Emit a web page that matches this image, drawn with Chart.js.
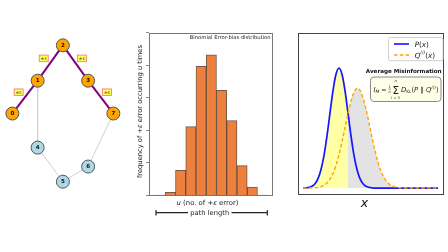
<!DOCTYPE html>
<html><head><meta charset="utf-8">
<script src="https://cdn.jsdelivr.net/npm/chart.js@4.4.1/dist/chart.umd.min.js"></script>
<style>
html,body{margin:0;padding:0;background:#fff;width:448px;height:252px;overflow:hidden}
canvas{position:absolute;left:0;top:0}
</style></head><body>
<canvas id="cGraph" width="448" height="252"></canvas>
<canvas id="cHist" width="448" height="252"></canvas>
<canvas id="cKL" width="448" height="252"></canvas>
<script>
/* ---- panel 1: path through the network ---- */
const nodeIds    = [0, 1, 2, 3, 7, 4, 5, 6];
const nodeX      = [0, 1, 2, 3, 4, 1, 2, 3];
const nodeY      = [2.7, 4.0, 5.4, 4.0, 2.7, 1.35, 0, 0.6];
const pathNodes  = [0, 1, 2, 3, 7];
const pathEdges  = [[0,1],[1,2],[2,3],[3,7]];
const otherEdges = [[1,4],[4,5],[5,6],[6,7]];
const edgeLabel  = '±ε';

/* ---- panel 2: binomial error-bias histogram ---- */
const binIndex  = [0, 1, 2, 3, 4, 5, 6, 7, 8, 9, 10];
const binFreq   = [0.03, 0.11, 0.79, 2.13, 3.98, 4.33, 3.24, 2.31, 0.93, 0.27, 0.03];
const freqTicks = [0, 1, 2, 3, 4, 5];

/* ---- panel 3: P(x) vs Q(i)(x) ---- */
const xs    = [3,6,9,12,15,18,21,24,27,30,33,36,39,42,45,48,51,54,57,60,63,66,69,72,75,78,81,84,87,90,93,96,99,102,105,108,111,114,117,120,123,126,129,132,135,138];
const pVals = [0.001,0.002,0.006,0.015,0.036,0.078,0.154,0.272,0.435,0.626,0.812,0.949,1.0,0.949,0.812,0.626,0.435,0.272,0.154,0.078,0.036,0.015,0.006,0.002,0,0,0,0,0,0,0,0,0,0,0,0,0,0,0,0,0,0,0,0,0,0];
const qVals = [0,0,0,0.001,0.003,0.006,0.012,0.023,0.042,0.074,0.121,0.189,0.277,0.384,0.503,0.621,0.725,0.798,0.83,0.814,0.753,0.658,0.543,0.423,0.312,0.216,0.141,0.087,0.051,0.028,0.015,0.007,0.003,0.0015,0,0,0,0,0,0,0,0,0,0,0,0];
const crossX = 48;

const FAM = '"DejaVu Sans", sans-serif';
const f = (sz, st) => (st ? st + ' ' : '') + sz.toFixed(2) + 'px ' + FAM;

function measureRuns(ctx, list){ let w = 0; list.forEach(r => { ctx.font = r[1]; w += ctx.measureText(r[0]).width; }); return w; }
function drawRuns(ctx, list, x, y, align){
  const w = measureRuns(ctx, list);
  let cx = align === 'center' ? x - w/2 : align === 'right' ? x - w : x;
  ctx.textAlign = 'left'; ctx.textBaseline = 'alphabetic';
  list.forEach(r => { ctx.font = r[1]; ctx.fillText(r[0], cx, y + (r[2] || 0)); cx += ctx.measureText(r[0]).width; });
  return cx;
}
function fitRuns(ctx, mk, target){ const w = measureRuns(ctx, mk(10)); return mk(10 * target / w); }
function frame(ctx, l, t, r, b, col){
  ctx.save(); ctx.strokeStyle = col; ctx.lineWidth = 1;
  ctx.strokeRect(Math.round(l) + .5, Math.round(t) + .5, Math.round(r - l) - 1, Math.round(b - t) - 1);
  ctx.restore();
}
function rrect(ctx, x, y, w, h, r){
  ctx.beginPath(); ctx.moveTo(x + r, y); ctx.arcTo(x + w, y, x + w, y + h, r); ctx.arcTo(x + w, y + h, x, y + h, r);
  ctx.arcTo(x, y + h, x, y, r); ctx.arcTo(x, y, x + w, y, r); ctx.closePath();
}
const base = {responsive:false, animation:false, events:[], plugins:{legend:{display:false}, tooltip:{enabled:false}}};

/* ================= panel 1 ================= */
const pt = id => { const k = nodeIds.indexOf(id); return {x: nodeX[k], y: nodeY[k]}; };
const graphLabels = {
  id: 'graphLabels',
  afterDatasetsDraw(chart){
    const {ctx, scales:{x, y}} = chart;
    const px = id => { const p = pt(id); return {x: x.getPixelForValue(p.x), y: y.getPixelForValue(p.y)}; };
    ctx.save();
    pathEdges.forEach(([a, b]) => {
      const A = px(a), B = px(b);
      const dx = B.x - A.x, dy = B.y - A.y, L = Math.hypot(dx, dy);
      let nx = -dy / L, ny = dx / L;
      if (ny > 0){ nx = -nx; ny = -ny; }
      const cx = (A.x + B.x)/2 + nx*8, cy = (A.y + B.y)/2 + ny*8;
      ctx.fillStyle = '#ffff55'; ctx.strokeStyle = '#ff7070'; ctx.lineWidth = 0.8;
      ctx.fillRect(cx - 4.5, cy - 3.3, 9, 6.6); ctx.strokeRect(cx - 4.5, cy - 3.3, 9, 6.6);
      ctx.fillStyle = '#333'; ctx.font = f(4.6); ctx.textAlign = 'center'; ctx.textBaseline = 'middle';
      ctx.fillText(edgeLabel, cx, cy + 0.3);
    });
    ctx.fillStyle = '#111'; ctx.font = f(5.6, 'bold'); ctx.textAlign = 'center'; ctx.textBaseline = 'middle';
    nodeIds.forEach(id => { const p = px(id); ctx.fillText(String(id), p.x, p.y + 0.3); });
    ctx.restore();
  }
};
const edgeSet = (edges, col, w, ord) => edges.map(e => ({data: e.map(pt), showLine:true, borderColor:col, borderWidth:w, pointRadius:0, order:ord}));
new Chart(document.getElementById('cGraph'), {
  type: 'scatter',
  data: {datasets: [
    {data: nodeIds.map(pt), pointRadius: 6.5, borderWidth: 1, borderColor: '#555',
     backgroundColor: nodeIds.map(id => pathNodes.includes(id) ? '#ffa500' : '#add8e6'), order: 1},
    ...edgeSet(pathEdges, '#800080', 2, 2),
    ...edgeSet(otherEdges, '#cfcfcf', 1, 3)
  ]},
  options: {...base, layout:{autoPadding:false, padding:{left:0, right:322, top:30, bottom:52}},
    scales: {x:{type:'linear', display:false, min:-0.49, max:4.5}, y:{type:'linear', display:false, min:-0.725, max:6.008}}},
  plugins: [graphLabels]
});

/* ================= panel 2 ================= */
const histText = {
  id: 'histText',
  afterDraw(chart){
    const {ctx, chartArea:a, scales:{y}} = chart;
    frame(ctx, 149, a.top, 273, a.bottom, '#777');
    ctx.save();
    ctx.strokeStyle = '#888'; ctx.lineWidth = 1; ctx.beginPath();
    freqTicks.forEach(v => { const py = Math.round(y.getPixelForValue(v)) - .5; ctx.moveTo(146, py); ctx.lineTo(149, py); });
    ctx.stroke();
    ctx.fillStyle = '#222';
    drawRuns(ctx, fitRuns(ctx, s => [['Binomial Error-bias distribution', f(s)]], 80.7), 270.5, 39, 'right');
    const yl = fitRuns(ctx, s => [['frequency of +', f(s)], ['ε', f(s, 'italic')], [' error occurring ', f(s)], ['u', f(s, 'italic')], [' times', f(s)]], 133);
    ctx.save(); ctx.translate(139.5, 111.5); ctx.rotate(-Math.PI/2); drawRuns(ctx, yl, 0, 2.4, 'center'); ctx.restore();
    drawRuns(ctx, fitRuns(ctx, s => [['u', f(s, 'italic')], [' (no. of +', f(s)], ['ε', f(s, 'italic')], [' error)', f(s)]], 62), 207.5, 204.5, 'center');
    const pl = fitRuns(ctx, s => [['path length', f(s)]], 39);
    drawRuns(ctx, pl, 209.7, 215, 'center');
    ctx.strokeStyle = '#222'; ctx.lineWidth = 1.2; ctx.beginPath();
    ctx.moveTo(156, 212.7); ctx.lineTo(188, 212.7); ctx.moveTo(231.5, 212.7); ctx.lineTo(267.3, 212.7);
    ctx.moveTo(156, 210); ctx.lineTo(156, 215.4); ctx.moveTo(267.3, 210); ctx.lineTo(267.3, 215.4);
    ctx.stroke();
    ctx.restore();
  }
};
new Chart(document.getElementById('cHist'), {
  type: 'bar',
  data: {labels: binIndex, datasets: [{data: binFreq,
    backgroundColor: '#ed7f3f', borderColor: 'rgba(70,35,10,0.75)', borderWidth: 1,
    barPercentage: 1, categoryPercentage: 1}]},
  options: {...base, layout:{autoPadding:false, padding:{left:155, right:180.3, top:33, bottom:56}},
    scales: {
      x: {display:false},
      y: {display:false, min: freqTicks[0], max: freqTicks[freqTicks.length-1]}
    }},
  plugins: [histText]
});

/* ================= panel 3 ================= */
const klText = {
  id: 'klText',
  afterDraw(chart){
    const {ctx, chartArea:a} = chart;
    frame(ctx, a.left, a.top, a.right, a.bottom, '#444');
    ctx.save();
    // legend
    rrect(ctx, 388.5, 37.5, 54.5, 23.2, 2); ctx.fillStyle = 'rgba(255,255,255,0.85)'; ctx.fill();
    ctx.strokeStyle = '#d0d0d0'; ctx.lineWidth = 1; ctx.stroke();
    ctx.lineWidth = 1.6; ctx.strokeStyle = '#1515ff'; ctx.beginPath(); ctx.moveTo(394, 44); ctx.lineTo(409, 44); ctx.stroke();
    ctx.strokeStyle = '#ffa500'; ctx.setLineDash([3.6, 2.2]); ctx.beginPath(); ctx.moveTo(394, 55); ctx.lineTo(409, 55); ctx.stroke();
    ctx.setLineDash([]);
    ctx.fillStyle = '#222';
    drawRuns(ctx, [['P', f(7.2, 'italic')], ['(', f(7.2)], ['x', f(7.2, 'italic')], [')', f(7.2)]], 414.7, 46.6, 'left');
    drawRuns(ctx, [['Q', f(7.2, 'italic')], ['(i)', f(4.6, 'italic'), -3.2], ['(', f(7.2)], ['x', f(7.2, 'italic')], [')', f(7.2)]], 414.7, 57.6, 'left');
    // annotation
    ctx.fillStyle = '#111';
    drawRuns(ctx, fitRuns(ctx, s => [['Average Misinformation', f(s, 'bold')]], 76), 403.7, 72.5, 'center');
    rrect(ctx, 370.5, 77, 70.5, 24.5, 3.5); ctx.fillStyle = '#ffffe8'; ctx.fill();
    ctx.strokeStyle = '#8a8a8a'; ctx.lineWidth = 1; ctx.stroke();
    ctx.fillStyle = '#222';
    let cx = drawRuns(ctx, [['I', f(6.8, 'italic')], ['M', f(4.4, 'italic'), 1.5], [' = ', f(6.2)]], 373.5, 91.5, 'left');
    ctx.font = f(3.6); ctx.textAlign = 'center'; ctx.fillText('1', cx + 1.3, 88);
    ctx.font = f(3.6, 'italic'); ctx.fillText('n', cx + 1.3, 92.8);
    ctx.fillRect(cx, 88.8, 2.6, 0.5);
    cx += 4;
    ctx.font = f(10.5); ctx.fillText('Σ', cx + 3.3, 93.5);
    ctx.font = f(3.8, 'italic'); ctx.fillText('n', cx + 3.3, 82.3);
    ctx.font = f(3.8); ctx.fillText('i = 1', cx + 3.3, 99.3);
    cx += 8.5;
    drawRuns(ctx, [['D', f(6.8, 'italic')], ['KL', f(4.4), 1.5], ['(', f(6.8)], ['P', f(6.8, 'italic')], [' ‖ ', f(6.8)], ['Q', f(6.8, 'italic')], ['(i)', f(4.4, 'italic'), -3], [')', f(6.8)]], cx, 91.5, 'left');
    // axis label
    ctx.fillStyle = '#111'; ctx.font = f(12.5, 'italic'); ctx.textAlign = 'center'; ctx.textBaseline = 'alphabetic';
    ctx.fillText('x', 364.5, 207);
    ctx.restore();
  }
};
const series = vals => xs.map((x, i) => ({x, y: vals[i]}));
new Chart(document.getElementById('cKL'), {
  type: 'line',
  data: {datasets: [
    {data: series(pVals).filter(p => p.x <= crossX), fill: {value: 0}, backgroundColor: '#ffffa6', borderWidth: 0, pointRadius: 0, cubicInterpolationMode: 'monotone', order: 4},
    {data: series(qVals).filter(p => p.x >= crossX), fill: {value: 0}, backgroundColor: '#e3e3e3', borderWidth: 0, pointRadius: 0, cubicInterpolationMode: 'monotone', order: 3},
    {data: series(pVals), borderColor: '#1515ff', borderWidth: 1.7, pointRadius: 0, fill: false, cubicInterpolationMode: 'monotone', order: 2},
    {data: series(qVals), borderColor: '#ffa500', borderWidth: 1.4, borderDash: [3.6, 2.2], pointRadius: 0, fill: false, cubicInterpolationMode: 'monotone', order: 1}
  ]},
  options: {...base, layout:{autoPadding:false, padding:{left:298, right:4, top:33, bottom:57}},
    scales: {x:{type:'linear', display:false, min:-2, max:144}, y:{type:'linear', display:false, min:-0.058, max:1.292}}},
  plugins: [klText]
});
</script>
</body></html>
